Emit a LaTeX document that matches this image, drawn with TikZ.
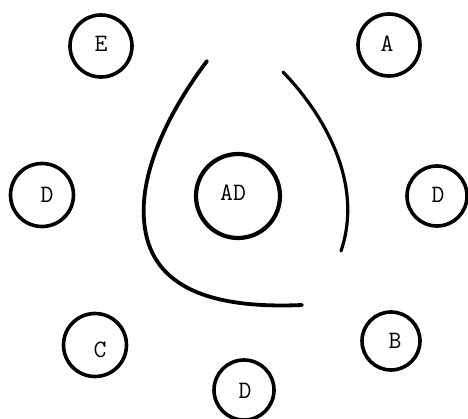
\documentclass[tikz,border=0pt]{standalone}
\usepackage{fontspec}
\begin{document}
\begin{tikzpicture}[x=1pt,y=-1pt,
  ring/.style={circle,draw,line width=3.6pt,inner sep=0pt},
  txt/.style={font=\ttfamily\fontsize{25}{25}\selectfont,inner sep=0pt},
  stroke/.style={line width=3.8pt,line cap=round}]
\useasboundingbox (0,0) rectangle (468,419);
\node[ring,minimum size=62pt,label={[txt,shift={(0,-2)}]center:E}] (E) at (101,46) {};
\node[ring,minimum size=62pt,label={[txt,shift={(-2,-1)}]center:A}] (A) at (389,45) {};
\node[ring,minimum size=63pt,label={[txt,shift={(5,0)}]center:D}] (DL) at (42,195) {};
\node[ring,minimum size=84pt,line width=4.2pt,label={[txt,shift={(-5,-3)}]center:AD}] (AD) at (238,196) {};
\node[ring,minimum size=60pt,label={[txt,shift={(1,-1)}]center:D}] (DR) at (437,196) {};
\node[ring,minimum size=63pt,label={[txt,shift={(5,5)}]center:C}] (C) at (95,345) {};
\node[ring,minimum size=58pt,label={[txt,shift={(4,0)}]center:B}] (B) at (391,341) {};
\node[ring,minimum size=60pt,label={[txt,shift={(1,1)}]center:D}] (DB) at (244,390) {};
\coordinate (l1) at (207,61);
\coordinate (l2) at (302,305);
\coordinate (r1) at (283,72);
\coordinate (r2) at (341,251);
\draw[stroke] (l1) .. controls (170,110) and (140,170) .. (144,220)
  .. controls (148,275) and (190,310) .. (l2);
\draw[stroke,line width=3.2pt] (r1) .. controls (320,110) and (365,180) .. (r2);
\end{tikzpicture}
\end{document}
